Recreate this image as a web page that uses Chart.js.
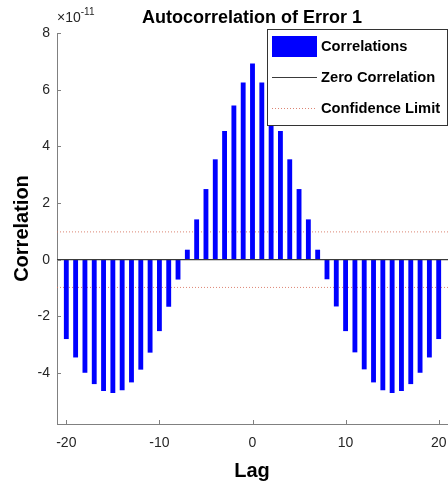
<!DOCTYPE html>
<html>
<head>
<meta charset="utf-8">
<script src="https://cdn.jsdelivr.net/npm/chart.js@4/dist/chart.umd.min.js"></script>
<style>
  html, body { margin: 0; padding: 0; background: #ffffff; }
  #wrap { width: 448px; height: 483px; }
</style>
</head>
<body>
<div id="wrap"><canvas id="acf" width="448" height="483"></canvas></div>
<script>
// Lags of the error autocorrelation
const lags = [-20, -19, -18, -17, -16, -15, -14, -13, -12, -11, -10, -9, -8, -7, -6, -5, -4, -3, -2, -1,
              0, 1, 2, 3, 4, 5, 6, 7, 8, 9, 10, 11, 12, 13, 14, 15, 16, 17, 18, 19, 20];
// Correlation at each lag, in units of 1e-11
const correlations = [-2.79, -3.44, -3.98, -4.38, -4.62, -4.69, -4.60, -4.32, -3.87, -3.27, -2.51, -1.65, -0.69,
                      0.34, 1.41, 2.48, 3.53, 4.53, 5.43, 6.24,
                      6.91,
                      6.24, 5.43, 4.53, 3.53, 2.48, 1.41, 0.34,
                      -0.68, -1.64, -2.51, -3.26, -3.86, -4.32, -4.60, -4.69, -4.62, -4.38, -3.98, -3.44, -2.79];
// Confidence limit (+/-), in units of 1e-11
const confidenceLimit = 0.98;
const yTickValues = [-4, -2, 0, 2, 4, 6, 8];
const xTickValues = [-20, -10, 0, 10, 20];
const yRange = [-5.8, 8];
const xRange = [-21, 21];
const SCALE = 1e-11;

const FONT = '"Liberation Sans", Arial, Helvetica, sans-serif';
const TEXT = '#262626';
const AXIS = '#808080';

const barData = lags.map((l, i) => ({ x: l, y: correlations[i] * SCALE }));
const zeroData = [{ x: xRange[0], y: 0 }, { x: xRange[1], y: 0 }];
const upperData = [{ x: xRange[0], y: confidenceLimit * SCALE }, { x: xRange[1], y: confidenceLimit * SCALE }];
const lowerData = [{ x: xRange[0], y: -confidenceLimit * SCALE }, { x: xRange[1], y: -confidenceLimit * SCALE }];

// Titles, exponent label, inward tick marks and the boxed legend
const decorations = {
  id: 'decorations',
  afterDraw(chart) {
    const ctx = chart.ctx;
    const xs = chart.scales.x, ys = chart.scales.y;
    const area = chart.chartArea;
    ctx.save();

    // inward tick marks
    ctx.strokeStyle = AXIS;
    ctx.lineWidth = 1;
    ctx.beginPath();
    yTickValues.concat([8]).forEach(v => {
      const py = Math.round(ys.getPixelForValue(v * SCALE)) + 0.5;
      ctx.moveTo(area.left, py); ctx.lineTo(area.left + 4, py);
    });
    xTickValues.forEach(v => {
      const px = Math.round(xs.getPixelForValue(v)) + 0.5;
      ctx.moveTo(px, area.bottom); ctx.lineTo(px, area.bottom - 4);
    });
    ctx.stroke();

    // title
    ctx.fillStyle = '#000';
    ctx.textAlign = 'center';
    ctx.textBaseline = 'alphabetic';
    ctx.font = 'bold 18px ' + FONT;
    ctx.fillText('Autocorrelation of Error 1', 252, 23);

    // axis titles
    ctx.font = 'bold 20px ' + FONT;
    ctx.fillText('Lag', 252, 477);
    ctx.save();
    ctx.translate(22, (area.top + area.bottom) / 2);
    ctx.rotate(-Math.PI / 2);
    ctx.textBaseline = 'middle';
    ctx.fillText('Correlation', 0, 0);
    ctx.restore();

    // exponent label
    ctx.fillStyle = TEXT;
    ctx.textAlign = 'left';
    ctx.textBaseline = 'alphabetic';
    ctx.font = '14px ' + FONT;
    ctx.fillText('\u00d710', 57, 22);
    const w = ctx.measureText('\u00d710').width;
    ctx.font = '10px ' + FONT;
    ctx.fillText('-11', 57 + w, 15);

    // legend
    const lx = 267.5, ly = 29.5, lw = 180, lh = 96;
    ctx.fillStyle = '#fff';
    ctx.fillRect(lx, ly, lw, lh);
    ctx.strokeStyle = '#333';
    ctx.lineWidth = 1;
    ctx.strokeRect(lx, ly, lw, lh);
    const ds = chart.data.datasets;
    const rows = [46.5, 77.5, 108.5];
    // bar swatch
    ctx.fillStyle = ds[0].backgroundColor;
    ctx.fillRect(272, 36, 45, 21);
    // zero line swatch
    ctx.strokeStyle = ds[1].borderColor;
    ctx.beginPath(); ctx.moveTo(272, rows[1]); ctx.lineTo(317, rows[1]); ctx.stroke();
    // confidence swatch
    ctx.strokeStyle = ds[2].borderColor;
    ctx.setLineDash(ds[2].borderDash);
    ctx.beginPath(); ctx.moveTo(272, rows[2]); ctx.lineTo(317, rows[2]); ctx.stroke();
    ctx.setLineDash([]);
    ctx.fillStyle = '#000';
    ctx.font = 'bold 14.7px ' + FONT;
    ctx.textBaseline = 'middle';
    ctx.fillText(ds[0].label, 321, rows[0]);
    ctx.fillText(ds[1].label, 321, rows[1]);
    ctx.fillText(ds[2].label, 321, rows[2]);

    ctx.restore();
  }
};

new Chart(document.getElementById('acf'), {
  type: 'bar',
  data: {
    datasets: [
      { type: 'bar', label: 'Correlations', data: barData, backgroundColor: '#0000ff',
        borderWidth: 0, barThickness: 4.2, order: 2 },
      { type: 'line', label: 'Zero Correlation', data: zeroData, borderColor: '#3a3a3a',
        borderWidth: 1.2, pointRadius: 0, order: 1 },
      { type: 'line', label: 'Confidence Limit', data: upperData, borderColor: 'rgba(214,110,90,0.85)',
        borderWidth: 1, borderDash: [1, 2], pointRadius: 0, order: 3 },
      { type: 'line', label: 'Confidence Limit (lower)', data: lowerData, borderColor: 'rgba(214,110,90,0.85)',
        borderWidth: 1, borderDash: [1, 2], pointRadius: 0, order: 3 }
    ]
  },
  options: {
    responsive: false,
    devicePixelRatio: 1,
    animation: false,
    layout: { padding: { top: 33, left: 0, right: 0, bottom: 0 } },
    plugins: { legend: { display: false }, title: { display: false }, tooltip: { enabled: false } },
    scales: {
      x: {
        type: 'linear', min: xRange[0], max: xRange[1], offset: false,
        grid: { display: true, drawOnChartArea: false, drawTicks: false },
        border: { display: true, color: AXIS, width: 1 },
        ticks: { color: TEXT, font: { family: FONT, size: 14 }, padding: 11, maxRotation: 0 },
        afterBuildTicks: s => { s.ticks = xTickValues.map(v => ({ value: v })); },
        afterFit: s => { s.height = 59; s.paddingLeft = 0; s.paddingRight = 0; }
      },
      y: {
        type: 'linear', min: yRange[0] * SCALE, max: yRange[1] * SCALE,
        grid: { display: true, drawOnChartArea: false, drawTicks: false },
        border: { display: true, color: AXIS, width: 1 },
        ticks: { color: TEXT, font: { family: FONT, size: 14 }, padding: 7,
                 callback: v => String(Math.round(v / SCALE)) },
        afterBuildTicks: s => { s.ticks = yTickValues.map(v => ({ value: v * SCALE })); },
        afterFit: s => { s.width = 57; s.paddingTop = 0; s.paddingBottom = 0; }
      }
    }
  },
  plugins: [decorations]
});
</script>
</body>
</html>
